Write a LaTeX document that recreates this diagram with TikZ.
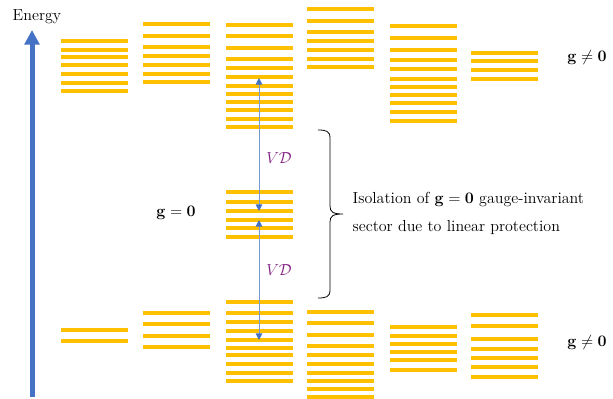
\documentclass[tikz,border=0pt]{standalone}
\usetikzlibrary{arrows.meta}
\definecolor{levelgold}{RGB}{255,192,0}
\definecolor{energyblue}{RGB}{68,114,196}
\definecolor{gapblue}{RGB}{120,152,212}
\definecolor{vdpurple}{RGB}{128,32,128}
\begin{document}
\begin{tikzpicture}[x = .75pt, y = -.75pt,
    level/.style = {levelgold, line width = 3pt},
    gap/.style = {gapblue, line width = .7pt,
      {Triangle[color = energyblue, length = 5pt, width = 5pt]}-{Triangle[color = energyblue, length = 5pt, width = 5pt]}},
    lbl/.style = {font = \large}]
  \useasboundingbox (0,0) rectangle (613,399);
  % energy axis
  \node [lbl] (energy) at (37,17) {Energy};
  \coordinate (ebot) at (32,397);
  \coordinate (etop) at (32,30);
  \draw [energyblue, line width = 3.75pt, -{Triangle[length = 11pt, width = 11pt]}] (ebot) -- (etop);
  % levels, column by column
  \foreach \x/\ys in {61/{41,50,57,65,74,83,91,330,341},
      143/{24,36,47,56,65,74,82,313,324,336,347},
      226/{25,36,48,59,68,77,86,94,102,110,119,127,192,202,211,220,228,237,302,313,322,331,340,348,355,364,373,381},
      307/{9,21,32,41,50,59,67,312,323,335,346,355,364,373,381,389,397},
      390/{26,38,50,60,69,79,87,95,103,112,121,327,336,344,352,360,370},
      471/{53,61,70,79,315,326,339,349,358,367,377}}
    \foreach \y in \ys
      \draw [level] (\x,\y) -- ++(67,0);
  % couplings between the sectors
  \coordinate (up1) at (259,78);
  \coordinate (lo1) at (259,211);
  \coordinate (up2) at (259,220);
  \coordinate (lo2) at (259,340);
  \draw [gap] (lo1) -- (up1);
  \draw [gap] (up2) -- (lo2);
  \node [lbl, vdpurple] (vd1) at (279,158) {$V\mathcal{D}$};
  \node [lbl, vdpurple] (vd2) at (279,270) {$V\mathcal{D}$};
  % sector labels
  \node [lbl] (gzero) at (176,213) {$\mathbf{g}=\mathbf{0}$};
  \node [lbl] (gtop) at (587,58) {$\mathbf{g}\neq\mathbf{0}$};
  \node [lbl] (gbot) at (587,342) {$\mathbf{g}\neq\mathbf{0}$};
  % brace
  \draw [semithick] (318,130) .. controls (326,130) and (330,131) .. (330,138)
    -- (330,206) .. controls (330,212) and (333,214) .. (343,214)
    .. controls (333,214) and (330,216) .. (330,222)
    -- (330,290) .. controls (330,297) and (326,298) .. (318,298);
  \node [lbl, anchor = west, align = left] (iso) at (348,213)
    {Isolation of $\mathbf{g}=\mathbf{0}$ gauge-invariant\\[7pt] sector due to linear protection};
\end{tikzpicture}
\end{document}
